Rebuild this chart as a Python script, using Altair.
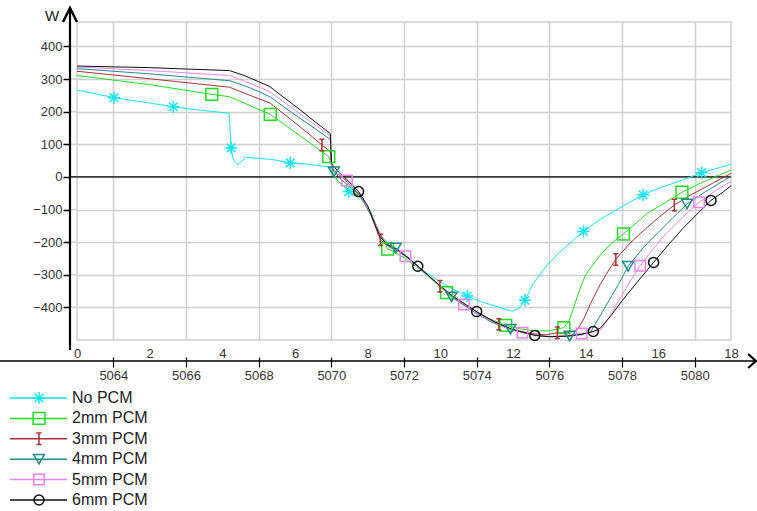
import altair as alt
import pandas as pd

# ---------------- data ----------------
series_names = ["No PCM", "2mm PCM", "3mm PCM", "4mm PCM", "5mm PCM", "6mm PCM"]
series_colors = ["#12e6f0", "#1fdc1f", "#a83232", "#1f8a8a", "#ee82ee", "#111111"]

x_top_labels = list(range(0, 19, 2))        # 0 .. 18
x_bottom_ticks = list(range(1, 18, 2))      # shown as 5064 .. 5080
x_bottom_offset = 5063
y_ticks = list(range(-400, 401, 100))
y_domain = [-500, 475]
x_domain = [0, 18]

# No PCM
no_t = [0, 0.5, 1.6, 2.1, 3.2, 3.7, 4.19, 4.3, 4.36, 4.42, 4.5, 4.65, 5.0, 5.4, 6.3, 6.97, 7.05, 7.2,
        7.75, 8.0, 8.2, 8.4, 8.7, 9.1, 9.5, 10.0, 10.4, 11.1, 11.57, 11.98, 12.17, 12.56, 12.94,
        13.4, 14.4, 14.77, 15.2, 16.0, 16.4, 16.8, 17.6, 18]
no_w = [266, 255, 233, 225, 207, 201, 195, 55, 45, 38, 45, 60, 57, 53, 40, 30, 10, -15,
        -58, -92, -145, -185, -215, -248, -285, -322, -347, -382, -398, -412, -403, -326, -270,
        -219, -130, -106, -78, -35, -20, -4, 26, 39]
no_mt = [1.02, 2.65, 4.24, 5.87, 7.48, 10.74, 12.33, 13.94, 15.58, 17.19]
no_mw = [243, 215, 89, 43, -45, -365, -378, -167, -55, 13]

# 2mm PCM
g_t = [0, 2, 4.2, 4.6, 5.0, 5.7, 6.3, 7.0, 7.05, 7.2, 7.5, 7.8, 8.1, 8.3, 8.7, 9.0, 9.4, 9.8,
       10.6, 11.2, 12.2, 12.6, 13.0, 13.55, 13.7, 13.87, 14.0, 14.14, 14.4, 14.69, 15.4, 15.7,
       16.2, 17.1, 17.6, 18]
g_w = [311, 283, 246, 227, 207, 161, 113, 40, 5, -15, -40, -60, -110, -165, -228, -248, -280, -318,
       -390, -428, -466, -472, -472, -440, -390, -335, -300, -278, -240, -205, -140, -111,
       -78, -22, 2, 21]
g_mt = [3.71, 5.32, 6.93, 8.55, 10.17, 11.8, 13.4, 15.04, 16.65]
g_mw = [253, 192, 62, -221, -355, -455, -462, -175, -47]

# 3mm PCM
b_t = [0, 2, 4.2, 4.6, 5.0, 5.32, 5.9, 6.4, 6.97, 7.01, 7.2, 7.5, 7.8, 8.1, 8.6, 8.9, 9.3, 9.7,
       10.5, 11.1, 12.0, 12.5, 12.9, 13.5, 13.76, 13.95, 14.14, 14.4, 14.64, 15.2, 15.52, 16.0,
       16.9, 17.4, 18]
b_w = [324, 301, 275, 257, 240, 226, 175, 130, 78, 30, 0, -30, -58, -120, -215, -232, -265, -305,
       -380, -422, -468, -480, -484, -478, -470, -435, -387, -330, -285, -205, -172, -125,
       -55, -25, 11]
b_mt = [6.74, 8.35, 9.99, 11.61, 13.22, 14.83, 16.44]
b_mw = [98, -193, -335, -452, -478, -253, -86]

# 4mm PCM
t4_t = [0, 2, 4.2, 4.6, 5.0, 5.32, 5.9, 6.4, 6.97, 7.01, 7.3, 7.55, 7.8, 8.1, 8.35, 8.55, 9.1,
        9.6, 10.0, 10.9, 11.4, 12.3, 12.7, 13.1, 13.9, 14.14, 14.35, 14.6, 14.9, 15.6, 16.0,
        16.4, 17.3, 17.7, 18]
t4_w = [332, 316, 295, 280, 262, 245, 198, 160, 115, 35, 0, -30, -55, -118, -180, -210, -245,
        -295, -335, -412, -445, -478, -486, -490, -484, -474, -435, -387, -330, -215, -170,
        -125, -45, -18, 1]
t4_mt = [7.07, 8.77, 10.31, 11.93, 13.56, 15.17, 16.79]
t4_mw = [16, -218, -368, -467, -488, -274, -83]

# 5mm PCM
p_t = [0, 2, 4.2, 4.6, 5.0, 5.32, 5.9, 6.4, 6.97, 7.01, 7.15, 7.6, 7.8, 8.1, 8.35, 8.6, 8.8,
       9.5, 10.1, 11.2, 11.7, 12.6, 13.0, 13.5, 14.2, 14.41, 14.65, 14.9, 15.2, 15.85, 16.2,
       16.7, 17.6, 18]
p_w = [337, 326, 311, 294, 276, 260, 213, 172, 126, 35, 12, -25, -52, -115, -175, -212, -225,
       -288, -345, -430, -458, -485, -490, -486, -475, -470, -430, -380, -325, -222, -175,
       -120, -40, -14]
p_mt = [7.43, 9.04, 10.65, 12.26, 13.89, 15.5, 17.12]
p_mw = [-11, -243, -391, -478, -480, -272, -78]

# 6mm PCM
k_t = [0, 2, 4.2, 4.6, 5.0, 5.32, 5.7, 6.15, 6.6, 6.97, 7.01, 7.2, 7.4, 8.0, 8.2, 8.35, 8.55,
       8.8, 9.1, 9.8, 10.3, 11.5, 12.0, 13.0, 13.5, 13.9, 14.4, 14.7, 15.0, 15.4, 16.3, 16.7,
       17.1, 17.8, 18]
k_w = [340, 335, 326, 311, 292, 276, 243, 205, 165, 133, 40, 15, -5, -88, -145, -185, -208,
       -222, -247, -315, -362, -445, -468, -490, -488, -482, -464, -425, -380, -325, -205, -155,
       -110, -45, -27]
k_mt = [7.75, 9.38, 11.0, 12.6, 14.21, 15.87, 17.45]
k_mw = [-45, -274, -413, -486, -474, -262, -72]

series_data = [
    (no_t, no_w, no_mt, no_mw),
    (g_t, g_w, g_mt, g_mw),
    (b_t, b_w, b_mt, b_mw),
    (t4_t, t4_w, t4_mt, t4_mw),
    (p_t, p_w, p_mt, p_mw),
    (k_t, k_w, k_mt, k_mw),
]

# ---------------- frames ----------------
line_rows, mark_rows = [], []
for name, (lt, lw, mt, mw) in zip(series_names, series_data):
    pts = sorted(list(zip(lt, lw)) + list(zip(mt, mw)))
    for t, w in pts:
        line_rows.append({"series": name, "t": t, "w": w})
    for t, w in zip(mt, mw):
        mark_rows.append({"series": name, "t": t, "w": w})
lines_df = pd.DataFrame(line_rows)
marks_df = pd.DataFrame(mark_rows)
legend_df = pd.DataFrame({"series": series_names, "row": list(range(len(series_names)))})
ytick_df = pd.DataFrame({"w": y_ticks})
zero_df = pd.DataFrame({"w": [0]})
dummy = pd.DataFrame({"k": [0]})

# ---------------- encodings ----------------
FONT = "Liberation Sans"
asterisk = "M0,-1L0,1M-1,0L1,0M-0.7,-0.7L0.7,0.7M-0.7,0.7L0.7,-0.7"
ibeam = "M-0.45,-1L0.45,-1M0,-1L0,1M-0.45,1L0.45,1"
shape_range = [asterisk, "square", ibeam, "triangle-down", "square", "circle"]
size_range = [150, 100, 110, 90, 100, 120]

color_enc = alt.Color("series:N", scale=alt.Scale(domain=series_names, range=series_colors), legend=None)
shape_enc = alt.Shape("series:N", scale=alt.Scale(domain=series_names, range=shape_range), legend=None)
size_enc = alt.Size("series:N", scale=alt.Scale(domain=series_names, range=size_range), legend=None)

x_scale = alt.Scale(domain=x_domain, nice=False, zero=False)
y_scale = alt.Scale(domain=y_domain, nice=False, zero=False)

y_enc = alt.Y("w:Q", scale=y_scale,
              axis=alt.Axis(values=y_ticks, offset=7, domain=False, tickSize=7, tickColor="black",
                            tickWidth=1.5, labelPadding=1, grid=True, title=None,
                            labelOverlap=False))

x_top = alt.X("t:Q", scale=x_scale,
              axis=alt.Axis(values=x_top_labels, orient="bottom", grid=False, domain=False,
                            ticks=False, tickSize=0, labelPadding=7, title=None,
                            labelFlush=False, labelOverlap=False))
x_bot = alt.X("t:Q", scale=x_scale,
              axis=alt.Axis(values=x_bottom_ticks, orient="bottom", offset=17, tickSize=10,
                            tickColor="black", tickWidth=1.2, domain=False, grid=True,
                            labelExpr=f"toString(datum.value + {x_bottom_offset})",
                            labelPadding=2, title=None, labelFlush=False, labelOverlap=False))

# ---------------- layers ----------------
ytick_ext = alt.Chart(ytick_df).mark_rule(color="#d0d0d0", strokeWidth=1.5).encode(
    y=y_enc, x=alt.value(-7), x2=alt.value(0))

zero_line = alt.Chart(zero_df).mark_rule(color="black", strokeWidth=1.3).encode(
    y=y_enc, x=alt.value(-7), x2=alt.value(654))

lines = alt.Chart(lines_df).mark_line(strokeWidth=1).encode(
    x=x_top, y=y_enc, color=color_enc, detail="series:N")

points = alt.Chart(marks_df).mark_point(filled=False, strokeWidth=1.5, opacity=1).encode(
    x=x_bot, y=y_enc, color=color_enc, shape=shape_enc, size=size_enc)

y_axis_line = alt.Chart(dummy).mark_rule(color="black", strokeWidth=2.2).encode(
    x=alt.value(-7), y=alt.value(-14), y2=alt.value(328))
y_arrow = alt.Chart(dummy).mark_point(shape="M-1,1L0,-1L1,1", filled=False, color="black",
                                      strokeWidth=2.5, size=196, opacity=1).encode(
    x=alt.value(-7), y=alt.value(-7))
x_axis_line = alt.Chart(dummy).mark_rule(color="black", strokeWidth=1.6).encode(
    x=alt.value(-77), x2=alt.value(677), y=alt.value(339))
x_arrow = alt.Chart(dummy).mark_point(shape="M-0.55,-1L0.55,0L-0.55,1", filled=False, color="black",
                                      strokeWidth=2.2, size=196, opacity=1).encode(
    x=alt.value(675), y=alt.value(339))
w_label = alt.Chart(dummy).mark_text(text="W", fontSize=15, font=FONT, color="#222",
                                     align="center", baseline="middle").encode(
    x=alt.value(-25), y=alt.value(-6))

main = alt.layer(ytick_ext, zero_line, lines, points, y_axis_line, y_arrow, x_axis_line,
                 x_arrow, w_label).resolve_axis(x="independent")

leg_y = alt.Y("row:Q", scale=alt.Scale(domain=[0, 5], range=[376, 478]), axis=None)
leg_line = alt.Chart(legend_df).mark_rule(strokeWidth=1.5).encode(
    x=alt.value(-67), x2=alt.value(-10), y=leg_y, color=color_enc)
leg_pt = alt.Chart(legend_df).mark_point(filled=False, strokeWidth=1.5, opacity=1).encode(
    x=alt.value(-38), y=leg_y, color=color_enc, shape=shape_enc, size=size_enc)
leg_txt = alt.Chart(legend_df).mark_text(align="left", baseline="middle", fontSize=16, font=FONT,
                                         color="#222").encode(
    x=alt.value(-5), y=leg_y, text="series:N")
legend = alt.layer(leg_line, leg_pt, leg_txt)

chart = alt.layer(main, legend).resolve_scale(y="independent").properties(
    width=654, height=318,
    autosize=alt.AutoSizeParams(type="none"),
    padding={"left": 77, "top": 22, "right": 26, "bottom": 171},
).configure_axis(
    labelFont=FONT, labelFontSize=13, labelColor="#333333",
    gridColor="#d0d0d0", gridWidth=1.5,
).configure_view(stroke="#d0d0d0", strokeWidth=1.5)

chart.save("out.html", embed_options={"renderer": "svg", "actions": False})
